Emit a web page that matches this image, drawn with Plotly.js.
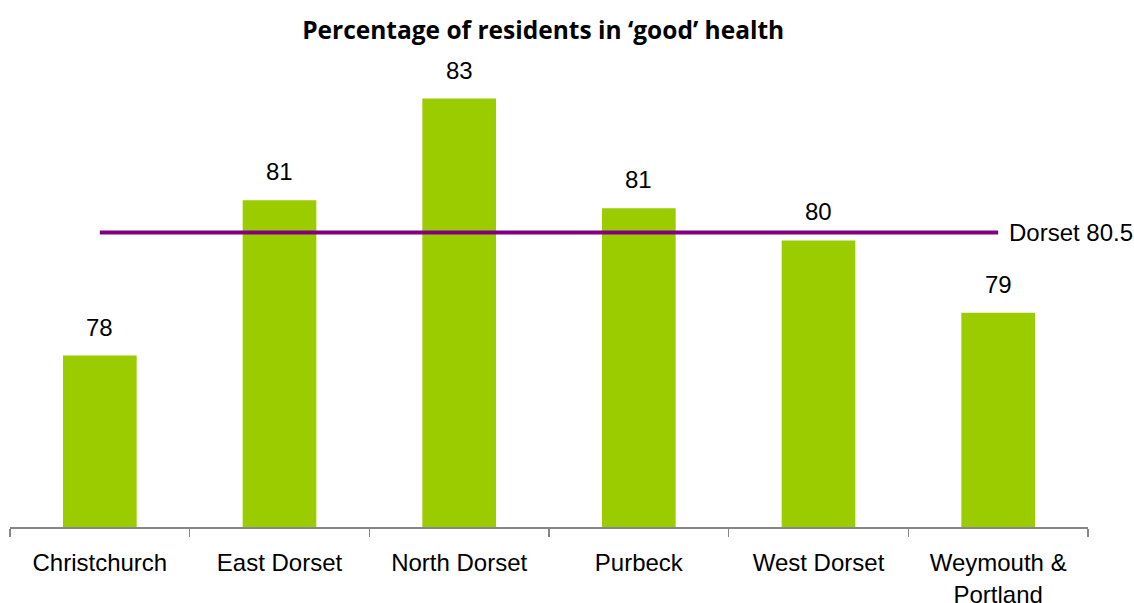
<!DOCTYPE html>
<html>
<head>
<meta charset="utf-8">
<script src="https://cdn.plot.ly/plotly-3.0.1.min.js"></script>
<style>
  html, body { margin: 0; padding: 0; background: #ffffff; }
  #chart { width: 1134px; height: 603px; }
</style>
</head>
<body>
<div id="chart"></div>
<script>
// ---- Data ----
const districts = ["Christchurch", "East Dorset", "North Dorset", "Purbeck", "West Dorset", "Weymouth &<br>Portland"];
const goodHealthPct = [78.2, 81.1, 83.0, 80.95, 80.35, 79.0];
const barLabels = ["78", "81", "83", "81", "80", "79"];
const dorsetName = "Dorset";
const dorsetAverage = 80.5;
const chartTitle = "Percentage of residents in \u2018good\u2019 health";

// ---- Styles ----
const barColor = "#9ACC00";
const lineColor = "#800080";
const labelFont = { family: "Liberation Sans, Arial, sans-serif", size: 24, color: "#000000" };

const traces = [
  {
    type: "bar",
    x: districts,
    y: goodHealthPct,
    marker: { color: barColor },
    hoverinfo: "x+y",
    showlegend: false
  },
  {
    type: "scatter",
    mode: "lines",
    x: districts,
    y: districts.map(() => dorsetAverage),
    line: { color: lineColor, width: 4 },
    hoverinfo: "y",
    showlegend: false
  }
];

const annotations = districts.map((d, i) => ({
  x: d, y: goodHealthPct[i], xref: "x", yref: "y",
  text: barLabels[i], showarrow: false,
  yanchor: "bottom", yshift: 13,
  font: labelFont
}));
annotations.push({
  x: districts[districts.length - 1], y: dorsetAverage, xref: "x", yref: "y",
  text: dorsetName + " " + dorsetAverage, showarrow: false,
  xanchor: "left", xshift: 9, yanchor: "middle",
  font: labelFont
});

const layout = {
  width: 1134, height: 603,
  margin: { l: 10, r: 46, t: 45, b: 76 },
  paper_bgcolor: "#ffffff",
  plot_bgcolor: "#ffffff",
  title: {
    text: chartTitle,
    font: { family: "Open Sans, sans-serif", size: 24.5, color: "#000000", weight: "bold" },
    xref: "container", x: 0.479, xanchor: "center",
    yref: "container", y: 0.95, yanchor: "middle"
  },
  bargap: 0.59,
  xaxis: {
    type: "category",
    range: [-0.5, 5.5],
    showline: true, linecolor: "#868686", linewidth: 1.5,
    ticks: "outside", tickson: "boundaries", ticklen: 8, tickcolor: "#868686", tickwidth: 1.5,
    ticklabelstandoff: 14,
    tickfont: labelFont,
    showgrid: false, zeroline: false,
    fixedrange: true
  },
  yaxis: {
    range: [75, 84],
    visible: false,
    showgrid: false, zeroline: false,
    fixedrange: true
  },
  annotations: annotations,
  showlegend: false
};

Plotly.newPlot("chart", traces, layout, { displayModeBar: false, staticPlot: true });
</script>
</body>
</html>
